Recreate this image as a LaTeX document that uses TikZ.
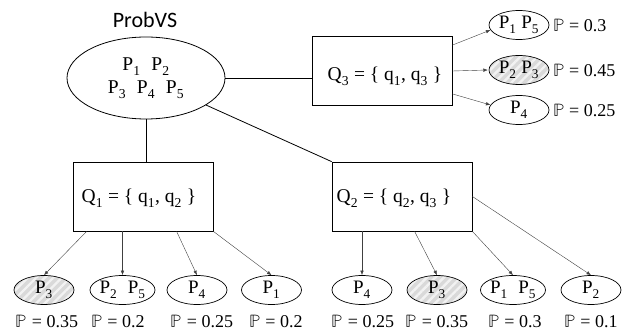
\documentclass[tikz,border=0pt]{standalone}
\usepackage{fontspec}
\usepackage{unicode-math}
\setmainfont{Liberation Serif}
\setmathfont{Latin Modern Math}
\newfontfamily\calibri{Carlito}
\newcommand{\sbs}[1]{\textsubscript{#1}}
\usetikzlibrary{arrows.meta,patterns.meta,shapes.geometric}
\begin{document}
\begin{tikzpicture}[x=1pt,y=-1pt,
  qbox/.style={draw, line width=0.8pt, minimum width=140pt, minimum height=69pt, inner sep=0pt},
  qtext/.style={font=\fontsize{19.5}{23}\selectfont, inner sep=0pt},
  leaf/.style={draw, ellipse, line width=0.7pt, minimum width=60pt, minimum height=29pt, inner sep=0pt, font=\fontsize{19}{22}\selectfont},
  hatched/.style={preaction={fill=gray!30}, pattern={Lines[angle=45,distance=6pt,line width=2.4pt]}, pattern color=white!90!gray},
  prob/.style={font=\fontsize{18}{21}\selectfont, inner sep=0pt},
  tedge/.style={line width=0.8pt},
  arr/.style={draw=black!75, line width=0.4pt, -{Latex[length=4.5pt,width=3.5pt]}}]
\useasboundingbox (0,0) rectangle (635,331);
\node[font=\calibri\fontsize{22}{26}\selectfont] (title) at (145,20) {ProbVS};
\node[draw, ellipse, line width=0.8pt, minimum width=158pt, minimum height=82pt, inner sep=0pt, align=center, font=\fontsize{19.5}{23}\selectfont] (root) at (146,78) {P\sbs{1}\;\;P\sbs{2}\\P\sbs{3}\;\;P\sbs{4}\;\;P\sbs{5}};
% boxes
\node[qbox] (q3) at (382,71) {};
\node[qtext] (q3t) at (385,76) {Q\sbs{3} = \{ q\sbs{1}, q\sbs{3} \}};
\node[qbox] (q1) at (143,196.5) {};
\node[qtext] (q1t) at (139,198) {Q\sbs{1} = \{ q\sbs{1}, q\sbs{2} \}};
\node[qbox] (q2) at (402,196.5) {};
\node[qtext] (q2t) at (394,198) {Q\sbs{2} = \{ q\sbs{2}, q\sbs{3} \}};
% tree edges
\draw[tedge] (root.east) -- (root.east -| q3.west);
\draw[tedge] (root.south) -- (root.south |- q1.north);
\draw[tedge] (root) -- (q2.north west);
% right leaves
\node[leaf] (r1) at (519,25) {P\sbs{1} P\sbs{5}};
\node[leaf,hatched] (r2) at (519,70) {P\sbs{2} P\sbs{3}};
\node[leaf] (r3) at (519,110) {P\sbs{4}};
\node[prob,anchor=west] (pr1) at (553,25) {$\mathbb{P}$ = 0.3};
\node[prob,anchor=west] (pr2) at (553,70) {$\mathbb{P}$ = 0.45};
\node[prob,anchor=west] (pr3) at (553,110) {$\mathbb{P}$ = 0.25};
\draw[arr] ([yshift=-9pt]q3.north east) -- (r1.190);
\draw[arr] (q3.east) -- (r2.west);
\draw[arr] ([yshift=12pt]q3.south east) -- (r3.170);
% Q1 leaves
\node[leaf,hatched] (a1) at (44,290) {P\sbs{3}};
\node[leaf] (a2) at (122.5,290) {P\sbs{2}\;\;P\sbs{5}};
\node[leaf] (a3) at (197,290) {P\sbs{4}};
\node[leaf] (a4) at (271.5,290) {P\sbs{1}};
\node[prob] (pa1) at (47,321) {$\mathbb{P}$ = 0.35};
\node[prob] (pa2) at (118,321) {$\mathbb{P}$ = 0.2};
\node[prob] (pa3) at (202,321) {$\mathbb{P}$ = 0.25};
\node[prob] (pa4) at (276,321) {$\mathbb{P}$ = 0.2};
\draw[arr] ([xshift=14pt]q1.south west) -- (a1.north);
\draw[arr] (a2.north |- q1.south) -- (a2.north);
\draw[arr] ([xshift=104pt]q1.south west) -- (a3.north);
\draw[arr] (q1.south east) -- (a4.north);
% Q2 leaves
\node[leaf] (b1) at (362,290) {P\sbs{4}};
\node[leaf,hatched] (b2) at (437,290) {P\sbs{3}};
\node[leaf] (b3) at (513,290) {P\sbs{1}\;\;P\sbs{5}};
\node[leaf] (b4) at (591,290) {P\sbs{2}};
\node[prob] (pb1) at (363,321) {$\mathbb{P}$ = 0.25};
\node[prob] (pb2) at (437,321) {$\mathbb{P}$ = 0.35};
\node[prob] (pb3) at (515,321) {$\mathbb{P}$ = 0.3};
\node[prob] (pb4) at (591,321) {$\mathbb{P}$ = 0.1};
\draw[arr] (b1.north |- q2.south) -- (b1.north);
\draw[arr] ([xshift=83pt]q2.south west) -- (b2.north);
\draw[arr] (q2.south east) -- (b3.north);
\draw[arr] (q2.east) -- (b4.north);
\end{tikzpicture}
\end{document}
